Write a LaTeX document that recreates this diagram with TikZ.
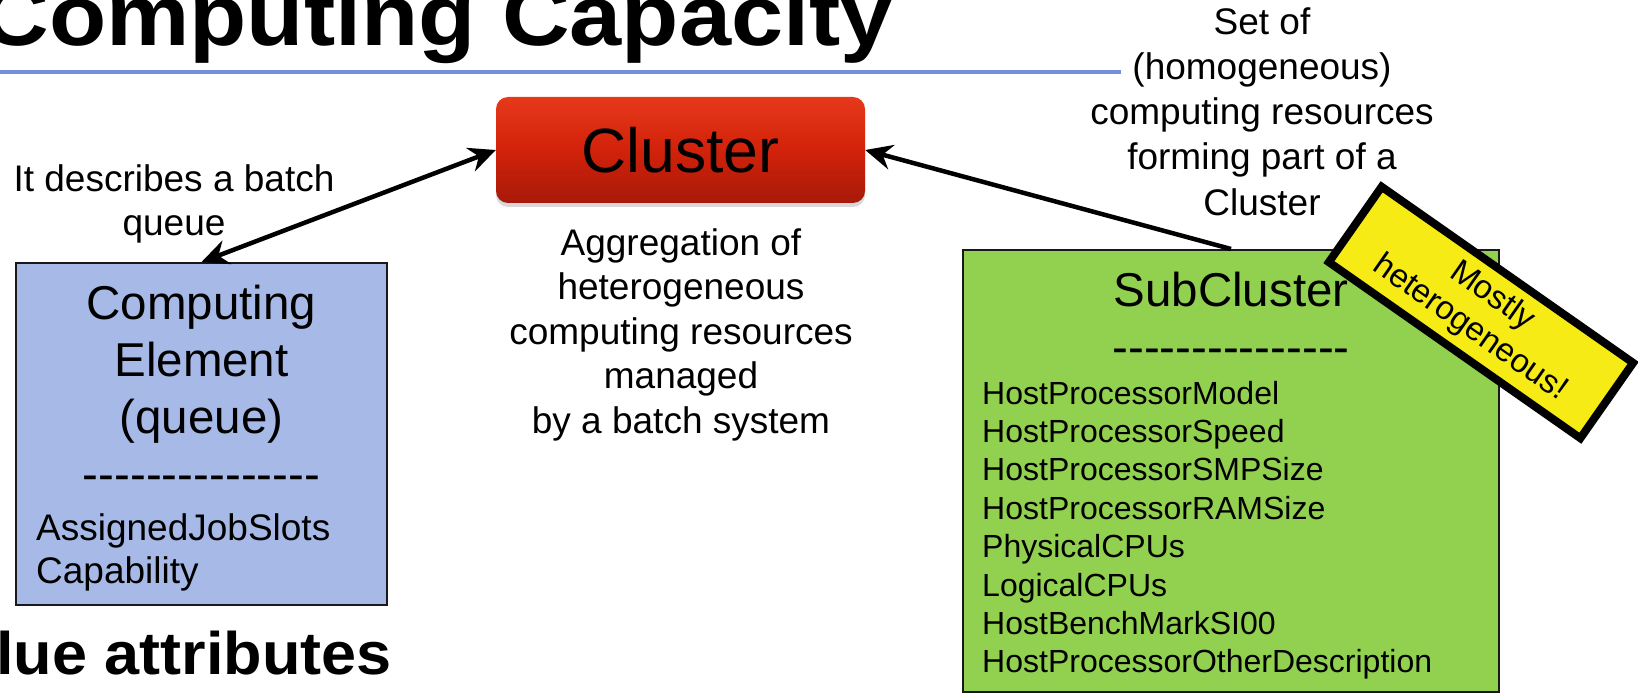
\documentclass[tikz,border=0pt]{standalone}
\usepackage{fontspec}
\usepackage{graphicx}
\setmainfont{Liberation Sans}
\usetikzlibrary{arrows.meta,shadows}
\definecolor{rulecol}{HTML}{7190D8}
\definecolor{cefill}{HTML}{A6B9E7}
\definecolor{scfill}{HTML}{92D050}
\definecolor{notefill}{HTML}{F6EB14}
\definecolor{redtop}{HTML}{E6391B}
\definecolor{redmid}{HTML}{D2220A}
\definecolor{redbot}{HTML}{A8190A}
\newcommand{\hy}{\mbox{-}}
\newcommand{\hyrow}{\hy\hy\hy\hy\hy\hy\hy\hy\hy\hy\hy\hy\hy\hy\hy}
\tikzset{
  lbl/.style={anchor=base, inner sep=0, font=\fontsize{37}{44}\selectfont},
  lblw/.style={anchor=base west, inner sep=0, font=\fontsize{37}{44}\selectfont},
  big/.style={anchor=base, inner sep=0, font=\fontsize{47.5}{57}\selectfont},
  listw/.style={anchor=base west, inner sep=0, font=\fontsize{32}{38}\selectfont},
  attrbox/.style={draw=black!90, line width=2, inner sep=0},
  clusterbox/.style={rounded corners=12, minimum width=369, minimum height=106, inner sep=0,
    top color=redtop, bottom color=redbot, middle color=redmid,
    drop shadow={opacity=0.3, shadow xshift=0pt, shadow yshift=-4pt},
    font=\fontsize{62.5}{62.5}\selectfont},
  notebox/.style={draw=black, line width=8, fill=notefill, minimum width=307, minimum height=92,
    inner sep=0, align=center, font=\fontsize{33}{39}\selectfont},
  conn/.style={line width=4.5, black},
}
\begin{document}
\begin{tikzpicture}[x=1pt,y=-1pt]
\useasboundingbox (0,0) rectangle (1638,695);
\fill[white] (0,0) rectangle (1638,695);

% title and rule
\node[anchor=base east, inner sep=0] (title) at (893,46)
  {\scalebox{1.09}[1]{\fontsize{86}{86}\selectfont\bfseries Computing Capacity}};
\draw[rulecol, line width=4] (0,72) -- (1121,72);
\node[anchor=base west, inner sep=0] (bottomtitle) at (-4,674)
  {\scalebox{1.05}[1]{\fontsize{60}{60}\selectfont\bfseries lue attributes}};

% Cluster
\node[clusterbox] (cluster) at (680.5,150) {Cluster};
\foreach \t [count=\i from 0] in {Aggregation of,heterogeneous,computing resources,managed,by a batch system}
  \node[lbl] (agg\i) at (681,255+44.5*\i) {\t};

% Computing Element
\node[attrbox, fill=cefill, minimum width=371, minimum height=342] (ce) at (201.5,434) {};
\foreach \t [count=\i from 0] in {Computing,Element,(queue),\hyrow}
  \node[big] (cet\i) at (201.5,319+57*\i) {\t};
\node[lblw] (ceattr1) at (36,540) {AssignedJobSlots};
\node[lblw] (ceattr2) at (36,583.5) {Capability};
\foreach \t [count=\i from 0] in {It describes a batch,queue}
  \node[lbl] (cel\i) at (174,192+44*\i) {\t};

% SubCluster
\node[attrbox, fill=scfill, minimum width=536, minimum height=442] (sub) at (1231,471) {};
\node[big] (subt) at (1231,306) {SubCluster};
\node[big] (subd) at (1231,363) {\hyrow};
\foreach \t [count=\i from 0] in {HostProcessorModel,HostProcessorSpeed,HostProcessorSMPSize,HostProcessorRAMSize,PhysicalCPUs,LogicalCPUs,HostBenchMarkSI00,HostProcessorOtherDescription}
  \node[listw] (sca\i) at (982,404+38.4*\i) {\t};
\foreach \t [count=\i from 0] in {Set of,(homogeneous),computing resources,forming part of a,Cluster}
  \node[lbl] (scl\i) at (1262,35+45*\i) {\t};

% connectors
\draw[conn, {Stealth[length=27pt,width=25pt,inset=9pt]}-{Stealth[length=27pt,width=25pt,inset=9pt]}] (ce.north) -- (cluster.west);
\draw[conn, -{Stealth[length=27pt,width=25pt,inset=9pt]}] (sub.north) -- (cluster.east);

% note
\node[notebox, rotate=-35] (note) at (1481,312.5) {Mostly\\heterogeneous!};
\end{tikzpicture}
\end{document}
